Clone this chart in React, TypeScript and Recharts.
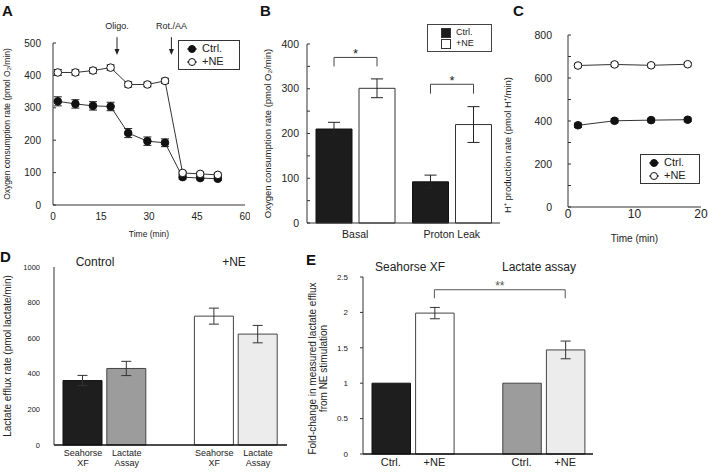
import React from 'react';
import {
  LineChart,
  Line,
  BarChart,
  Bar,
  XAxis,
  YAxis,
  ErrorBar,
  Cell,
  LabelList,
  ReferenceLine,
  ReferenceDot,
  Legend,
} from 'recharts';

const FONT = '"Liberation Sans", Arial, Helvetica, sans-serif';
const INK = '#222';
const AXIS = '#333';

// ---- A: oxygen consumption over time ----
const timeA = [1.5, 7, 12.5, 18, 23.5, 29.5, 35, 40.5, 46, 51.5];
const ctrlA = [320, 312, 306, 304, 222, 197, 192, 86, 83, 81];
const ctrlErrA = [14, 13, 13, 13, 14, 13, 12, 6, 5, 5];
const neA = [409, 409, 415, 424, 372, 372, 383, 99, 96, 93];
const neErrA = [9, 8, 8, 8, 8, 7, 8, 5, 5, 5];
const ticksYA = [0, 100, 200, 300, 400, 500];
const ticksXA = [0, 15, 30, 45, 60];
const injectTimes = [20, 37];
const injectNames = ['Oligo.', 'Rot./AA'];

// ---- B: basal / proton leak ----
const catsB = ['Basal', 'Proton Leak'];
const ctrlB = [210, 92];
const ctrlErrB = [15, 15];
const neB = [301, 220];
const neErrB = [21, 40];
const bracketTopB = [370, 310];
const bracketFootB = [350, 289];
const starsB = ['*', '*'];
const ticksYB = [0, 50, 100, 150, 200, 250, 300, 350, 400];

// ---- C: H+ production ----
const timeC = [1.5, 7, 12.5, 18];
const ctrlC = [380, 401, 404, 406];
const ctrlErrC = [10, 9, 8, 8];
const neC = [658, 663, 659, 664];
const neErrC = [9, 8, 8, 8];
const ticksYC = [0, 100, 200, 300, 400, 500, 600, 700, 800];
const ticksXC = [0, 10, 20];

// ---- D: lactate efflux ----
const catsD = ['ctrl-xf', 'ctrl-la', 'gap', 'ne-xf', 'ne-la'];
const tickLinesD = [['Seahorse', 'XF'], ['Lactate', 'Assay'], ['', ''], ['Seahorse', 'XF'], ['Lactate', 'Assay']];
const valD = [362, 430, null, 724, 623];
const errD = [29, 40, null, 45, 49];
const fillD = ['#1e1e1e', '#9c9c9c', '#fff', '#ffffff', '#ececec'];
const ticksYD = [0, 200, 400, 600, 800, 1000];

// ---- E: fold change ----
const catsE = ['sxf-ctrl', 'sxf-ne', 'gap', 'la-ctrl', 'la-ne'];
const tickLabelsE = ['Ctrl.', '+NE', '', 'Ctrl.', '+NE'];
const valE = [1, 1.99, null, 1, 1.47];
const errE = [null, 0.08, null, null, 0.125];
const fillE = ['#1e1e1e', '#ffffff', '#fff', '#9c9c9c', '#ececec'];
const ticksYE = [0, 0.5, 1, 1.5, 2, 2.5];
const bracketEndsE = ['sxf-ne', 'la-ne'];
const bracketLevelsE = [2.2, 2.32];

const seriesOrder = ['ctrl', 'ne'];

const dataA = timeA.map((t, i) => ({ t, ctrl: ctrlA[i], ctrlErr: ctrlErrA[i], ne: neA[i], neErr: neErrA[i] }));
const dataB = catsB.map((cat, i) => ({ cat, ctrl: ctrlB[i], ctrlErr: ctrlErrB[i], ne: neB[i], neErr: neErrB[i] }));
const dataC = timeC.map((t, i) => ({ t, ctrl: ctrlC[i], ctrlErr: ctrlErrC[i], ne: neC[i], neErr: neErrC[i] }));
const dataD = catsD.map((cat, i) => ({ cat, val: valD[i], err: errD[i] }));
const dataE = catsE.map((cat, i) => ({ cat, val: valE[i], err: errE[i] }));

const GAP_B = 7;

/** Rotated axis title, one text per line, dx measured from axis box left. */
function vLabel(lines: { text: string; dx: number }[], fontSize: number, shift = 0) {
  return (props: any) => {
    const vb = props.viewBox || {};
    const cy = Number(vb.y) + Number(vb.height) / 2 + shift;
    return (
      <g>
        {lines.map((l, i) => {
          const cx = Number(vb.x) + l.dx;
          return (
            <text
              key={i}
              x={cx}
              y={cy}
              transform={`rotate(-90 ${cx} ${cy})`}
              textAnchor="middle"
              dominantBaseline="central"
              fontSize={fontSize}
              fill={INK}
              fontFamily={FONT}
            >
              {l.text}
            </text>
          );
        })}
      </g>
    );
  };
}

/** Legend entries in series order (Recharts sorts by name otherwise). */
function orderedItems(payload: any[] | undefined) {
  return (payload || [])
    .filter((p: any) => p.type !== 'none' && seriesOrder.includes(String(p.dataKey)))
    .sort((a: any, b: any) => seriesOrder.indexOf(String(a.dataKey)) - seriesOrder.indexOf(String(b.dataKey)));
}

function CircleLegend(props: any) {
  const items = orderedItems(props.payload);
  return (
    <div
      style={{
        border: '1px solid #333',
        background: '#fff',
        padding: '1px 4px 1px 6px',
        fontSize: 11,
        lineHeight: '13px',
        fontFamily: FONT,
        color: INK,
      }}
    >
      {items.map((it: any, i: number) => (
        <div key={i} style={{ display: 'flex', alignItems: 'center', whiteSpace: 'nowrap' }}>
          <svg width={14} height={10}>
            <line x1={2} y1={5} x2={12} y2={5} stroke={INK} strokeWidth={1} />
            <circle cx={7} cy={5} r={3.5} fill={it.dataKey === 'ctrl' ? '#111' : '#fff'} stroke="#111" />
          </svg>
          <span style={{ marginLeft: 3 }}>{it.value}</span>
        </div>
      ))}
    </div>
  );
}

function SquareLegend(props: any) {
  const items = orderedItems(props.payload);
  return (
    <div
      style={{
        border: '1px solid #444',
        background: '#fff',
        padding: '2px 10px 2px 13px',
        fontSize: 9,
        lineHeight: '11px',
        fontFamily: FONT,
        color: INK,
      }}
    >
      {items.map((it: any, i: number) => (
        <div key={i} style={{ display: 'flex', alignItems: 'center', whiteSpace: 'nowrap' }}>
          <svg width={10} height={10}>
            <rect x={0.5} y={0.5} width={9} height={9} fill={it.dataKey === 'ctrl' ? '#1c1c1c' : '#fff'} stroke="#333" />
          </svg>
          <span style={{ marginLeft: 5 }}>{it.value}</span>
        </div>
      ))}
    </div>
  );
}

/** Significance bracket over a Basal/Proton Leak pair, hung on the +NE bar. */
function BracketB(props: any) {
  const i = Number(props.index);
  const vb = props.viewBox && props.viewBox.width != null ? props.viewBox : props;
  const x = Number(vb.x);
  const y = Number(vb.y);
  const w = Number(vb.width);
  const h = Number(vb.height);
  if (!isFinite(x) || !h) return null;
  const k = h / neB[i];
  const base = y + h;
  const top = base - bracketTopB[i] * k;
  const foot = base - bracketFootB[i] * k;
  const xr = x + w / 2;
  const xl = x - GAP_B - w / 2;
  return (
    <g>
      <path d={`M${xl},${foot}V${top}H${xr}V${foot}`} fill="none" stroke="#444" strokeWidth={1} />
      <text x={(xl + xr) / 2} y={top + 1} textAnchor="middle" fontSize={13} fill={INK} fontFamily={FONT}>
        {starsB[i]}
      </text>
    </g>
  );
}

function TickD(props: any) {
  const { x, y, payload } = props;
  const idx = catsD.indexOf(payload.value);
  const lines = tickLinesD[idx] || ['', ''];
  return (
    <text x={x} y={y} textAnchor="middle" fontSize={9} fill={INK} fontFamily={FONT}>
      <tspan x={x} dy={8}>{lines[0]}</tspan>
      <tspan x={x} dy={10}>{lines[1]}</tspan>
    </text>
  );
}

const arrowHead = (props: any) => {
  const { cx, cy } = props;
  return <path d={`M${cx - 2.5},${cy - 6}L${cx + 2.5},${cy - 6}L${cx},${cy}Z`} fill={INK} />;
};

const tickStyle = (fontSize: number) => ({ fontSize, fill: INK, fontFamily: FONT });

function PanelLetter({ ch, left, top }: { ch: string; left: number; top: number }) {
  return (
    <div style={{ position: 'absolute', left, top, fontSize: 15, fontWeight: 'bold', fontFamily: FONT, color: '#111', lineHeight: '15px' }}>
      {ch}
    </div>
  );
}

function Title({ text, cx, cy, size = 12 }: { text: string; cx: number; cy: number; size?: number }) {
  return (
    <div
      style={{
        position: 'absolute',
        left: cx - 60,
        top: cy - size / 2 - 1,
        width: 120,
        textAlign: 'center',
        fontSize: size,
        lineHeight: `${size + 2}px`,
        fontFamily: FONT,
        color: INK,
      }}
    >
      {text}
    </div>
  );
}

function PanelA() {
  return (
    <LineChart width={250} height={242} data={dataA} margin={{ top: 43, right: 5, bottom: 2, left: 0 }}>
      <XAxis
        dataKey="t"
        type="number"
        domain={[0, 60]}
        ticks={ticksXA}
        interval={0}
        stroke={AXIS}
        tickLine={false}
        tick={tickStyle(10)}
        height={35}
        label={{ value: 'Time (min)', position: 'insideBottom', offset: 3, fontSize: 8.5, fill: INK, fontFamily: FONT }}
      />
      <YAxis
        domain={[0, 500]}
        ticks={ticksYA}
        interval={0}
        width={53}
        stroke={AXIS}
        tickSize={-3}
        tickMargin={15}
        tick={tickStyle(10)}
        label={vLabel([{ text: 'Oxygen consumption rate (pmol O₂/min)', dx: 7 }], 8.5)}
      />
      {injectTimes.map((t, i) => (
        <ReferenceLine
          key={`inj${i}`}
          segment={[{ x: t, y: 518 }, { x: t, y: 469 }]}
          stroke={INK}
          strokeWidth={1}
          ifOverflow="visible"
          label={{ value: injectNames[i], position: 'top', offset: 8, fontSize: 9, fill: INK, fontFamily: FONT }}
        />
      ))}
      {injectTimes.map((t, i) => (
        <ReferenceDot key={`arr${i}`} x={t} y={463} ifOverflow="visible" shape={arrowHead} />
      ))}
      <Line
        dataKey="ctrl"
        name="Ctrl."
        stroke={AXIS}
        strokeWidth={1}
        dot={{ r: 3.8, fill: '#111', stroke: '#111', strokeWidth: 1 }}
        isAnimationActive={false}
      />
      <Line
        dataKey="ne"
        name="+NE"
        stroke={AXIS}
        strokeWidth={1}
        dot={{ r: 3.8, fill: '#fff', stroke: '#111', strokeWidth: 1 }}
        isAnimationActive={false}
      />
      <Line dataKey="ctrl" stroke="none" dot={false} legendType="none" isAnimationActive={false}>
        <ErrorBar dataKey="ctrlErr" direction="y" width={4} stroke={INK} strokeWidth={1} />
      </Line>
      <Line dataKey="ne" stroke="none" dot={false} legendType="none" isAnimationActive={false}>
        <ErrorBar dataKey="neErr" direction="y" width={4} stroke={INK} strokeWidth={1} />
      </Line>
      <Legend
        layout="vertical"
        align="center"
        verticalAlign="middle"
        content={<CircleLegend />}
        wrapperStyle={{ left: 178, top: 40, width: 62 }}
      />
    </LineChart>
  );
}

function PanelB() {
  return (
    <BarChart width={270} height={245} data={dataB} margin={{ top: 44, right: 5, bottom: 0, left: 0 }} barSize={36} barGap={GAP_B}>
      <XAxis dataKey="cat" stroke={AXIS} tickLine={false} tick={tickStyle(10.5)} height={22} interval={0} />
      <YAxis
        domain={[0, 400]}
        ticks={ticksYB}
        interval={0}
        width={72}
        stroke={AXIS}
        tickSize={-3}
        tickMargin={11}
        tick={tickStyle(10.5)}
        tickFormatter={(v: number) => (v % 100 === 0 ? String(v) : '')}
        label={vLabel([{ text: 'Oxygen consumption rate (pmol O₂/min)', dx: 32 }], 9.5)}
      />
      <Bar dataKey="ctrl" name="Ctrl." fill="#1c1c1c" stroke="#111" strokeWidth={1} isAnimationActive={false}>
        <ErrorBar dataKey="ctrlErr" width={6} stroke={INK} strokeWidth={1} />
      </Bar>
      <Bar dataKey="ne" name="+NE" fill="#ffffff" stroke="#333" strokeWidth={1} isAnimationActive={false}>
        <ErrorBar dataKey="neErr" width={6} stroke={INK} strokeWidth={1} />
        <LabelList dataKey="ne" content={BracketB} />
      </Bar>
      <Legend
        layout="vertical"
        align="center"
        verticalAlign="middle"
        content={<SquareLegend />}
        wrapperStyle={{ left: 192, top: 24, width: 65 }}
      />
    </BarChart>
  );
}

function PanelC() {
  return (
    <LineChart width={229} height={245} data={dataC} margin={{ top: 35, right: 8, bottom: 2, left: 0 }}>
      <XAxis
        dataKey="t"
        type="number"
        domain={[0, 20]}
        ticks={ticksXC}
        interval={0}
        stroke={AXIS}
        tickLine={false}
        tickSize={0}
        tickMargin={2}
        tick={tickStyle(12)}
        height={36}
        label={{ value: 'Time (min)', position: 'insideBottom', offset: 1, fontSize: 10, fill: INK, fontFamily: FONT }}
      />
      <YAxis
        domain={[0, 800]}
        ticks={ticksYC}
        interval={0}
        width={88}
        stroke={AXIS}
        tickSize={-3}
        tickMargin={19}
        tick={tickStyle(10.5)}
        tickFormatter={(v: number) => (v % 200 === 0 ? String(v) : '')}
        label={vLabel([{ text: 'H⁺ production rate (pmol H⁺/min)', dx: 27 }], 9.5, 24)}
      />
      <Line
        dataKey="ctrl"
        name="Ctrl."
        stroke={AXIS}
        strokeWidth={1}
        dot={{ r: 3.8, fill: '#111', stroke: '#111', strokeWidth: 1 }}
        isAnimationActive={false}
      />
      <Line
        dataKey="ne"
        name="+NE"
        stroke={AXIS}
        strokeWidth={1}
        dot={{ r: 3.8, fill: '#fff', stroke: '#111', strokeWidth: 1 }}
        isAnimationActive={false}
      />
      <Line dataKey="ctrl" stroke="none" dot={false} legendType="none" isAnimationActive={false}>
        <ErrorBar dataKey="ctrlErr" direction="y" width={4} stroke={INK} strokeWidth={1} />
      </Line>
      <Line dataKey="ne" stroke="none" dot={false} legendType="none" isAnimationActive={false}>
        <ErrorBar dataKey="neErr" direction="y" width={4} stroke={INK} strokeWidth={1} />
      </Line>
      <Legend
        layout="vertical"
        align="center"
        verticalAlign="middle"
        content={<CircleLegend />}
        wrapperStyle={{ left: 160, top: 154, width: 60 }}
      />
    </LineChart>
  );
}

function PanelD() {
  return (
    <BarChart width={295} height={228} data={dataD} margin={{ top: 22, right: 8, bottom: 0, left: 0 }} barSize={39}>
      <XAxis
        dataKey="cat"
        stroke="#111"
        strokeWidth={1.5}
        tickLine={false}
        tickSize={0}
        tickMargin={3}
        interval={0}
        height={28}
        padding={{ left: 7, right: 7 }}
        tick={<TickD />}
      />
      <YAxis
        domain={[0, 1000]}
        ticks={ticksYD}
        interval={0}
        width={54}
        stroke={AXIS}
        tickLine={false}
        tickMargin={8}
        tick={tickStyle(7.5)}
        label={vLabel([{ text: 'Lactate efflux rate (pmol lactate/min)', dx: 7 }], 10)}
      />
      <Bar dataKey="val" stroke="#333" strokeWidth={1} isAnimationActive={false}>
        {dataD.map((d, i) => (
          <Cell key={d.cat} fill={fillD[i]} stroke={i === 0 ? '#111' : '#444'} />
        ))}
        <ErrorBar dataKey="err" width={5} stroke="#333" strokeWidth={1} />
      </Bar>
    </BarChart>
  );
}

function PanelE() {
  return (
    <BarChart width={300} height={228} data={dataE} margin={{ top: 32, right: 7, bottom: 0, left: 0 }} barSize={38.5}>
      <XAxis
        dataKey="cat"
        stroke="#111"
        strokeWidth={1.5}
        tickLine={false}
        tickSize={0}
        tickMargin={4.5}
        interval={0}
        height={19}
        padding={{ left: 6, right: 6 }}
        tick={tickStyle(11)}
        tickFormatter={(v: string) => tickLabelsE[catsE.indexOf(v)] ?? ''}
      />
      <YAxis
        domain={[0, 2.5]}
        ticks={ticksYE}
        interval={0}
        width={63}
        stroke={AXIS}
        tickSize={3}
        tickMargin={12}
        tick={tickStyle(8)}
        label={vLabel(
          [
            { text: 'Fold-change in measured lactate efflux', dx: 12 },
            { text: 'from NE stimulation', dx: 23.5 },
          ],
          10,
          3
        )}
      />
      <Bar dataKey="val" stroke="#333" strokeWidth={1} isAnimationActive={false}>
        {dataE.map((d, i) => (
          <Cell key={d.cat} fill={fillE[i]} stroke={i === 0 ? '#111' : '#444'} />
        ))}
        <ErrorBar dataKey="err" width={5} stroke="#333" strokeWidth={1} />
      </Bar>
      <ReferenceLine
        segment={[
          { x: bracketEndsE[0], y: bracketLevelsE[1] },
          { x: bracketEndsE[1], y: bracketLevelsE[1] },
        ]}
        stroke="#555"
        strokeWidth={1}
        label={{ value: '**', position: 'top', offset: 0, fontSize: 12, fill: '#555', fontFamily: FONT }}
      />
      {bracketEndsE.map((c) => (
        <ReferenceLine
          key={c}
          segment={[
            { x: c, y: bracketLevelsE[0] },
            { x: c, y: bracketLevelsE[1] },
          ]}
          stroke="#555"
          strokeWidth={1}
        />
      ))}
    </BarChart>
  );
}

export default function App(): React.ReactElement {
  return (
    <div style={{ position: 'absolute', left: 0, top: 0, width: 709, height: 473, background: '#fff', overflow: 'hidden', fontFamily: FONT }}>
      <div style={{ position: 'absolute', left: 0, top: 0 }}>
        <PanelA />
      </div>
      <div style={{ position: 'absolute', left: 235, top: 0 }}>
        <PanelB />
      </div>
      <div style={{ position: 'absolute', left: 480, top: 0 }}>
        <PanelC />
      </div>
      <div style={{ position: 'absolute', left: 0, top: 245 }}>
        <PanelD />
      </div>
      <div style={{ position: 'absolute', left: 300, top: 245 }}>
        <PanelE />
      </div>
      <PanelLetter ch="A" left={2} top={3} />
      <PanelLetter ch="B" left={260} top={3} />
      <PanelLetter ch="C" left={513} top={3} />
      <PanelLetter ch="D" left={0} top={249} />
      <PanelLetter ch="E" left={306} top={252} />
      <Title text="Control" cx={95} cy={262} />
      <Title text="+NE" cx={234} cy={262} />
      <Title text="Seahorse XF" cx={410} cy={267} />
      <Title text="Lactate assay" cx={539} cy={267} />
    </div>
  );
}
